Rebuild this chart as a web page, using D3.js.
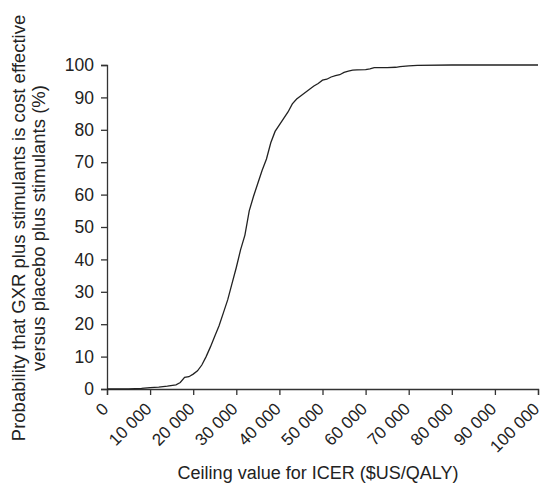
<!DOCTYPE html>
<html><head><meta charset="utf-8">
<script src="https://cdn.jsdelivr.net/npm/d3@7"></script>
<style>body{margin:0;background:#fff}svg{display:block;font-family:"Liberation Sans",Arial,Helvetica,sans-serif}</style>
</head><body><svg id="c" width="542" height="483"></svg>
<script>
const ceiling = [0,5000,8000,10000,12000,14000,16000,17000,18000,19000,20000,21000,22000,23000,24000,25000,26000,27000,28000,29000,30000,31000,32000,33000,34000,35000,36000,37000,38000,39000,40000,41000,42000,43000,44000,45000,46000,47000,48000,49000,50000,51000,52000,53000,54000,55000,56000,57000,58000,60000,61000,62000,65000,67000,68000,70000,72000,80000,90000,100000];
const probability = [0,0,0.2,0.4,0.6,0.9,1.3,2.0,3.6,3.8,4.6,5.6,7.4,10,13,16.3,19.5,23.5,27.5,32.5,37.5,43,47.5,55,59.5,63.5,67.5,71,76,79.5,81.5,83.5,85.5,88,89.5,90.5,91.5,92.5,93.5,94.3,95.3,95.6,96.3,96.7,97.0,97.7,98.1,98.4,98.5,98.6,98.8,99.2,99.2,99.3,99.5,99.7,99.9,100,100,100];
const xTicks = [0,10000,20000,30000,40000,50000,60000,70000,80000,90000,100000];
const xTickLabels = ["0","10 000","20 000","30 000","40 000","50 000","60 000","70 000","80 000","90 000","100 000"];
const yTicks = [0,10,20,30,40,50,60,70,80,90,100];
const xTitle = "Ceiling value for ICER ($US/QALY)";
const yTitle = ["Probability that GXR plus stimulants is cost effective","versus placebo plus stimulants (%)"];

const svg = d3.select("#c");
const x = d3.scaleLinear().domain([0,100000]).range([107,538]);
const y = d3.scaleLinear().domain([0,100]).range([389,65]);
const axisColor = "#333";

const gx = svg.append("g").attr("transform","translate(0,389)")
  .call(d3.axisBottom(x).tickValues(xTicks).tickFormat((d,i)=>xTickLabels[i]).tickSizeOuter(0).tickSize(6));
gx.selectAll("text").attr("font-size",17).attr("fill","#222")
  .attr("text-anchor","end").attr("dy",null).attr("y",null)
  .attr("transform","translate(2,21) rotate(-45)");
const gy = svg.append("g").attr("transform","translate(107,0)")
  .call(d3.axisLeft(y).tickValues(yTicks).tickSizeOuter(0).tickSize(6));
gy.selectAll("text").attr("font-size",17.5).attr("fill","#222").attr("x",-13);
[gx,gy].forEach(g=>{g.selectAll("path,line").attr("stroke",axisColor).attr("stroke-width",1.3);g.attr("font-family",null);});

const line = d3.line().x((d,i)=>x(ceiling[i])).y(d=>y(d));
svg.append("path").datum(probability).attr("d",line).attr("fill","none").attr("stroke","#222").attr("stroke-width",1.3);

svg.append("text").attr("x",318).attr("y",479).attr("text-anchor","middle").attr("font-size",18).attr("fill","#222").text(xTitle);
const yt = svg.append("text").attr("transform","translate(25,228) rotate(-90)").attr("text-anchor","middle").attr("font-size",18.5).attr("fill","#222");
yt.append("tspan").attr("x",0).attr("dy",0).text(yTitle[0]);
yt.append("tspan").attr("x",0).attr("dy",20).text(yTitle[1]);
</script></body></html>
